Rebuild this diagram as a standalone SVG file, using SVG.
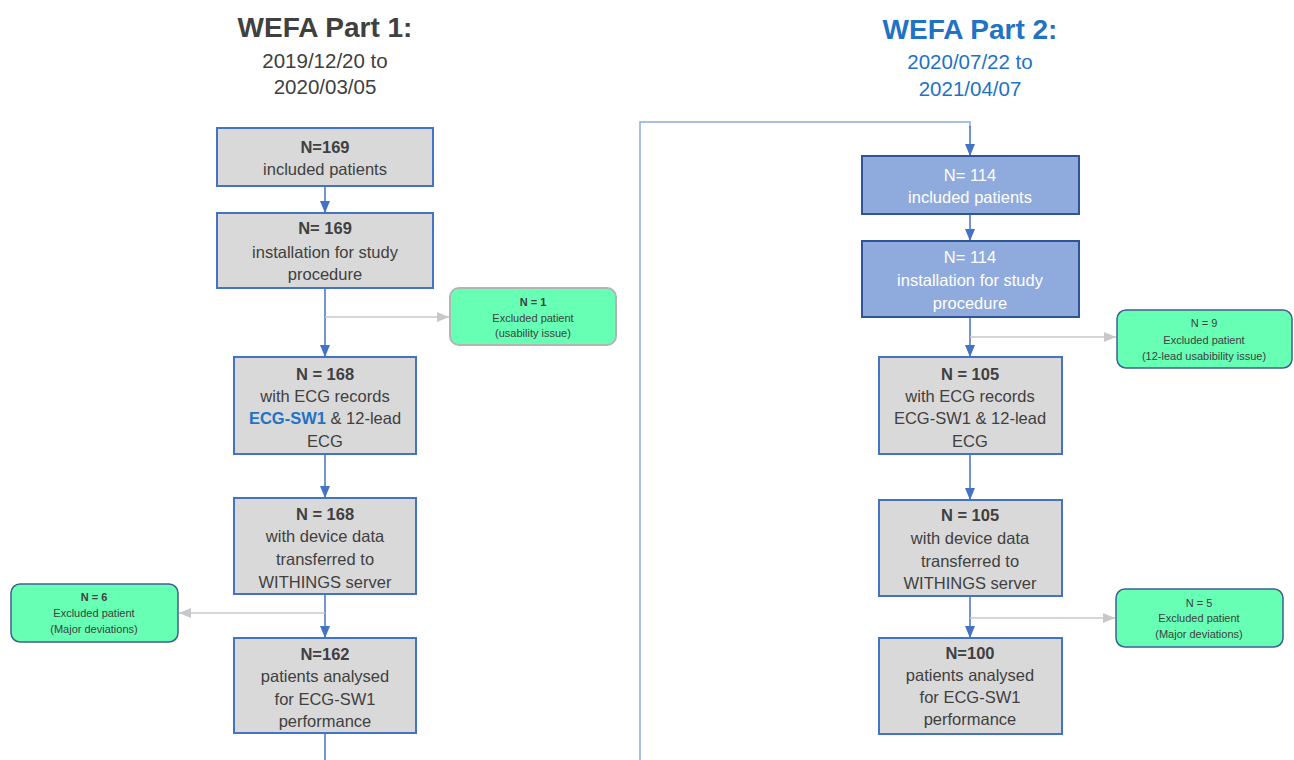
<svg xmlns="http://www.w3.org/2000/svg" width="1294" height="760" viewBox="0 0 1294 760">
<style>
text{font-family:"Liberation Sans",Arial,sans-serif;text-anchor:middle;fill:#404040}
.t1{font-size:28px;font-weight:bold}
.t2{font-size:28px;font-weight:bold;fill:#1f72c4}
.d1{font-size:20.5px}
.d2{font-size:20.5px;fill:#1f72c4}
.bt{font-size:16.5px}
.b{font-weight:bold}
.gbox{fill:#d9d9d9;stroke:#4472c4;stroke-width:2}
.pbox{fill:#8faadc;stroke:#2f5597;stroke-width:2}
.pbox+text,.w{fill:#ffffff}
.xbox{fill:#66ffb3;stroke:#3e5f94;stroke-width:1.5}
.xbox2{fill:#66ffb3;stroke:#b4b4b4;stroke-width:2}
.xt{font-size:11px}
.blue{stroke:#4472c4;stroke-width:1.5;fill:none}
.lblue{stroke:#8eaadc;stroke-width:1.5;fill:none}
.gray{stroke:#c8c8c8;stroke-width:1.5;fill:none}
</style>
<defs>
<marker id="ab" markerUnits="userSpaceOnUse" markerWidth="12" markerHeight="12" viewBox="0 0 12 12" refX="12" refY="6" orient="auto"><path d="M0,1 L12,6 L0,11 Z" fill="#4472c4"/></marker>
<marker id="ag" markerUnits="userSpaceOnUse" markerWidth="12" markerHeight="12" viewBox="0 0 12 12" refX="12" refY="6" orient="auto"><path d="M0,1 L12,6 L0,11 Z" fill="#c8c8c8"/></marker>
</defs>

<g id="titles">
<text class="t1" x="325" y="37">WEFA Part 1:</text>
<text class="d1" x="325" y="68">2019/12/20 to</text>
<text class="d1" x="325" y="94">2020/03/05</text>
<text class="t2" x="970" y="39">WEFA Part 2:</text>
<text class="d2" x="970" y="69">2020/07/22 to</text>
<text class="d2" x="970" y="96">2021/04/07</text>
</g>

<g id="connectors">
<path class="blue" d="M325,186 V213" marker-end="url(#ab)"/>
<path class="blue" d="M325,288 V357" marker-end="url(#ab)"/>
<path class="gray" d="M325,317 H449" marker-end="url(#ag)"/>
<path class="blue" d="M325,454 V498" marker-end="url(#ab)"/>
<path class="blue" d="M325,594 V638" marker-end="url(#ab)"/>
<path class="gray" d="M325,613 H179" marker-end="url(#ag)"/>
<path class="blue" d="M325,733 V760"/>
<path class="lblue" d="M640,760 V122 H970 V128"/>
<path class="blue" d="M970,126 V156" marker-end="url(#ab)"/>
<path class="blue" d="M970,214 V241" marker-end="url(#ab)"/>
<path class="blue" d="M970,317 V357" marker-end="url(#ab)"/>
<path class="gray" d="M970,337 H1116" marker-end="url(#ag)"/>
<path class="blue" d="M970,454 V500" marker-end="url(#ab)"/>
<path class="blue" d="M970,596 V638" marker-end="url(#ab)"/>
<path class="gray" d="M970,618 H1115" marker-end="url(#ag)"/>
</g>

<g id="L1"><rect class="gbox" x="217" y="128" width="216" height="58"/>
<text class="bt b" x="325" y="153">N=169</text><text class="bt" x="325" y="175">included patients</text></g>
<g id="L2"><rect class="gbox" x="217" y="213" width="216" height="75"/>
<text class="bt b" x="325" y="234">N= 169</text><text class="bt" x="325" y="258">installation for study</text><text class="bt" x="325" y="280">procedure</text></g>
<g id="LX1"><rect class="xbox2" x="450" y="288" width="166" height="57" rx="9"/>
<text class="xt b" x="533" y="306">N = 1</text><text class="xt" x="533" y="322">Excluded patient</text><text class="xt" x="533" y="337">(usability issue)</text></g>
<g id="L3"><rect class="gbox" x="234" y="357" width="182" height="97"/>
<text class="bt b" x="325" y="380">N = 168</text><text class="bt" x="325" y="402">with ECG records</text>
<text class="bt" x="325" y="424"><tspan class="b" fill="#1f72c4">ECG-SW1</tspan> &amp; 12-lead</text><text class="bt" x="325" y="447">ECG</text></g>
<g id="L4"><rect class="gbox" x="234" y="498" width="182" height="96"/>
<text class="bt b" x="325" y="520">N = 168</text><text class="bt" x="325" y="542">with device data</text><text class="bt" x="325" y="565">transferred to</text><text class="bt" x="325" y="588">WITHINGS server</text></g>
<g id="LX2"><rect class="xbox" x="11" y="584" width="167" height="58" rx="9"/>
<text class="xt b" x="94" y="601">N = 6</text><text class="xt" x="94" y="617">Excluded patient</text><text class="xt" x="94" y="633">(Major deviations)</text></g>
<g id="L5"><rect class="gbox" x="234" y="638" width="182" height="95"/>
<text class="bt b" x="325" y="660">N=162</text><text class="bt" x="325" y="682">patients analysed</text><text class="bt" x="325" y="705">for ECG-SW1</text><text class="bt" x="325" y="727">performance</text></g>

<g id="R1"><rect class="pbox" x="862" y="156" width="217" height="58"/>
<text class="bt w" x="970" y="181">N= 114</text><text class="bt w" x="970" y="203">included patients</text></g>
<g id="R2"><rect class="pbox" x="862" y="241" width="217" height="76"/>
<text class="bt w" x="970" y="263">N= 114</text><text class="bt w" x="970" y="286">installation for study</text><text class="bt w" x="970" y="309">procedure</text></g>
<g id="RX1"><rect class="xbox" x="1117" y="310" width="175" height="58" rx="9"/>
<text class="xt" x="1204" y="327">N = 9</text><text class="xt" x="1204" y="344">Excluded patient</text><text class="xt" x="1204" y="360">(12-lead usabibility issue)</text></g>
<g id="R3"><rect class="gbox" x="879" y="357" width="183" height="97"/>
<text class="bt b" x="970" y="380">N = 105</text><text class="bt" x="970" y="402">with ECG records</text><text class="bt" x="970" y="424">ECG-SW1 &amp; 12-lead</text><text class="bt" x="970" y="447">ECG</text></g>
<g id="R4"><rect class="gbox" x="879" y="500" width="183" height="96"/>
<text class="bt b" x="970" y="521">N = 105</text><text class="bt" x="970" y="544">with device data</text><text class="bt" x="970" y="567">transferred to</text><text class="bt" x="970" y="589">WITHINGS server</text></g>
<g id="RX2"><rect class="xbox" x="1116" y="589" width="167" height="58" rx="9"/>
<text class="xt" x="1199" y="607">N = 5</text><text class="xt" x="1199" y="622">Excluded patient</text><text class="xt" x="1199" y="638">(Major deviations)</text></g>
<g id="R5"><rect class="gbox" x="879" y="638" width="183" height="96"/>
<text class="bt b" x="970" y="659">N=100</text><text class="bt" x="970" y="681">patients analysed</text><text class="bt" x="970" y="703">for ECG-SW1</text><text class="bt" x="970" y="725">performance</text></g>
</svg>
